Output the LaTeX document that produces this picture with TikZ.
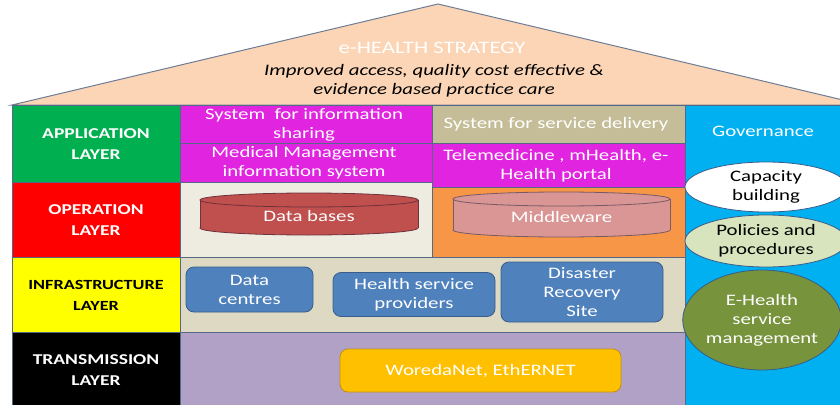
\documentclass[tikz,border=0pt]{standalone}
\usepackage{fontspec}
\setmainfont{Carlito}[FakeStretch=1.3]
\usetikzlibrary{shapes.geometric}
\definecolor{roofc}{RGB}{251,213,181}
\definecolor{roofl}{RGB}{110,125,150}
\definecolor{gridc}{RGB}{85,105,135}
\definecolor{appg}{RGB}{0,176,80}
\definecolor{opr}{RGB}{255,0,0}
\definecolor{infy}{RGB}{255,255,0}
\definecolor{mag}{RGB}{224,36,224}
\definecolor{tan}{RGB}{196,189,151}
\definecolor{lgrey}{RGB}{238,236,225}
\definecolor{orng}{RGB}{247,150,70}
\definecolor{infbg}{RGB}{221,217,195}
\definecolor{lav}{RGB}{178,161,199}
\definecolor{govb}{RGB}{0,176,240}
\definecolor{dbf}{RGB}{192,80,77}
\definecolor{dbl}{RGB}{110,50,60}
\definecolor{mwf}{RGB}{217,150,148}
\definecolor{mwl}{RGB}{120,90,100}
\definecolor{boxb}{RGB}{79,129,189}
\definecolor{boxl}{RGB}{56,93,138}
\definecolor{wor}{RGB}{255,192,0}
\definecolor{worl}{RGB}{190,145,20}
\definecolor{polc}{RGB}{215,228,189}
\definecolor{olive}{RGB}{119,147,60}
\tikzset{
  cell/.style={draw=gridc, line width=0.8pt, inner sep=0pt, align=center},
  lab/.style={font=\fontsize{15}{21}\selectfont\bfseries, align=center},
  txt/.style={font=\fontsize{16}{19}\selectfont, align=center, text=white, inner sep=0pt},
  rbox/.style={draw=boxl, line width=0.8pt, fill=boxb, rounded corners=8pt, inner sep=0pt, align=center, text=white, font=\fontsize{16}{19}\selectfont},
  ell/.style={ellipse, inner sep=0pt, align=center, font=\fontsize{16}{19}\selectfont, line width=0.8pt}
}
\begin{document}
\begin{tikzpicture}[x=1pt,y=-1pt]
\useasboundingbox (0,0) rectangle (840,404);
\clip (0,0) rectangle (840,404);
\fill[white] (0,0) rectangle (840,404);
% roof
\draw[roofl, line width=1pt, fill=roofc] (12,105) -- (438,4) -- (864,105) -- cycle;
\node[txt, font=\fontsize{17.5}{20}\selectfont] (title) at (432,48) {e-HEALTH STRATEGY};
\node[txt, text=black, font=\fontsize{16}{19}\selectfont\itshape] (goal) at (434,81) {Improved access, quality cost effective \&\\ evidence based practice care};
% layer labels
\node[cell, fill=appg, minimum width=168pt, minimum height=77pt] (app) at (96,143.5) {};
\node[lab, text=white] (appt) at (96,144) {APPLICATION\\LAYER};
\node[cell, fill=opr, minimum width=168pt, minimum height=75pt] (ope) at (96,219.5) {};
\node[lab, text=white] (opet) at (96,220) {OPERATION\\LAYER};
\node[cell, fill=infy, minimum width=168pt, minimum height=75pt] (inf) at (96,294.5) {};
\node[lab, text=black, font=\fontsize{14}{21}\selectfont\bfseries] (inft) at (96,295) {INFRASTRUCTURE\\LAYER};
\node[cell, fill=black, minimum width=168pt, minimum height=74pt] (tra) at (96,369) {};
\node[lab, text=white] (trat) at (96,370) {TRANSMISSION\\LAYER};
% application row
\node[cell, fill=mag, minimum width=252pt, minimum height=38pt] (share) at (306,124) {};
\node[txt] (sharet) at (304,124.5) {System\ \ for information\\sharing};
\node[cell, fill=mag, minimum width=252pt, minimum height=39pt] (med) at (306,162.5) {};
\node[txt] (medt) at (304,163) {Medical Management\\information system};
\node[cell, fill=tan, minimum width=253pt, minimum height=38pt] (deliv) at (558.5,124) {};
\node[txt] (delivt) at (556,124.5) {System for service delivery};
\node[cell, fill=mag, minimum width=253pt, minimum height=44pt] (tele) at (558.5,165) {};
\node[txt] (telet) at (556,165.5) {Telemedicine , mHealth, e-\\Health portal};
% operation row
\node[cell, fill=lgrey, minimum width=252pt, minimum height=75pt] (opl) at (306,219.5) {};
\node[cell, fill=orng, minimum width=253pt, minimum height=70pt] (opr) at (558.5,222) {};
% data bases cylinder
\path[fill=dbf, draw=dbl, line width=0.8pt] (309,228) ellipse[x radius=109, y radius=7];
\fill[dbf] (200,200) rectangle (418,228);
\draw[dbl, line width=0.8pt] (200,200) -- (200,228) (418,200) -- (418,228);
\path[fill=dbf, draw=dbl, line width=0.8pt] (309,200) ellipse[x radius=109, y radius=7];
\node[txt] (db) at (309,216) {Data bases};
% middleware cylinder
\path[fill=mwf, draw=mwl, line width=0.8pt] (561.5,230) ellipse[x radius=108.5, y radius=7];
\fill[mwf] (453,199) rectangle (670,230);
\draw[mwl, line width=0.8pt] (453,199) -- (453,230) (670,199) -- (670,230);
\path[fill=mwf, draw=mwl, line width=0.8pt] (561.5,199) ellipse[x radius=108.5, y radius=7];
\node[txt] (mw) at (561.5,217) {Middleware};
% infrastructure row
\node[cell, fill=infbg, minimum width=505pt, minimum height=75pt] (infbgc) at (432.5,294.5) {};
\node[rbox, minimum width=127pt, minimum height=45pt] (dc) at (249.5,289.5) {Data\\centres};
\node[rbox, minimum width=162pt, minimum height=44pt] (hsp) at (414,294.5) {Health service\\providers};
\node[rbox, minimum width=162pt, minimum height=60pt] (drs) at (582,292) {Disaster\\Recovery\\Site};
% transmission row
\node[cell, fill=lav, minimum width=505pt, minimum height=74pt] (trabg) at (432.5,369) {};
\node[rbox, draw=worl, fill=wor, minimum width=281pt, minimum height=43pt] (woreda) at (480.5,370.5) {WoredaNet, EthERNET};
% governance column
\node[cell, fill=govb, minimum width=160pt, minimum height=302pt] (gov) at (765,256) {};
\node[txt] (govt) at (763,131) {Governance};
\node[ell, draw=boxl, fill=white, minimum width=162pt, minimum height=50pt] (cap) at (766,187) {Capacity\\building};
\node[ell, draw=boxl, fill=polc, minimum width=162pt, minimum height=52pt] (pol) at (766,241) {Policies and\\procedures};
\node[ell, draw=boxl, fill=olive, text=white, minimum width=154pt, minimum height=100pt] (ehs) at (762,320) {E-Health\\service\\management};
\end{tikzpicture}
\end{document}
